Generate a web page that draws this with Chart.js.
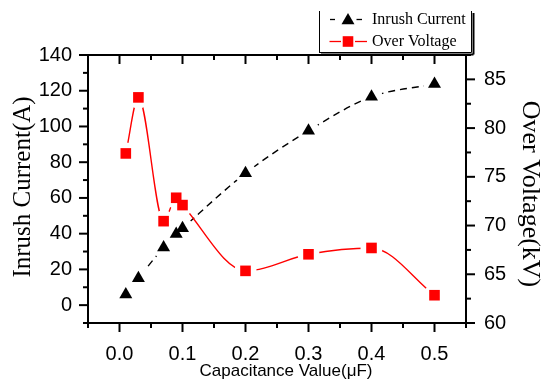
<!DOCTYPE html>
<html><head><meta charset="utf-8">
<script src="https://cdn.jsdelivr.net/npm/chart.js@4.4.1/dist/chart.umd.min.js"></script>
<style>html,body{margin:0;padding:0;background:#fff;}#wrap{width:543px;height:383px;position:relative;}</style>
</head><body><div id="wrap"><canvas id="c" width="543" height="383"></canvas></div>
<script>
// ---- data ----
const capacitance = [0.01, 0.03, 0.07, 0.09, 0.1, 0.2, 0.3, 0.4, 0.5];
const inrushCurrent = [6, 15, 32.3, 39.8, 43, 73.8, 97.6, 116.6, 123.7];
const overVoltage = [77.4, 83.15, 70.45, 72.85, 72.1, 65.35, 67.05, 67.7, 62.85];
const xTicks = [0.0, 0.1, 0.2, 0.3, 0.4, 0.5];
const leftTicks = [0, 20, 40, 60, 80, 100, 120, 140];
const rightTicks = [60, 65, 70, 75, 80, 85];
const seriesNames = ['Inrush Current', 'Over Voltage'];
const xTitle = 'Capacitance Value(\u03bcF)';
const leftTitle = 'Inrush Current(A)';
const rightTitle = 'Over Voltage(kV)';

const SANS = '"Liberation Sans", Arial, sans-serif';
const SERIF = '"Liberation Serif", "Times New Roman", serif';

const pts = (xs, ys) => xs.map((x, i) => ({x: x, y: ys[i]}));
const inrushPts = pts(capacitance, inrushCurrent);
const voltPts = pts(capacitance, overVoltage);

function minorsOf(majors, min, max) {
  const out = [];
  const step = majors[1] - majors[0];
  const all = [majors[0] - step].concat(majors, [majors[majors.length - 1] + step]);
  for (let i = 0; i < all.length - 1; i++) {
    const m = (all[i] + all[i + 1]) / 2;
    if (m >= min - 1e-9 && m <= max + 1e-9) out.push(m);
  }
  return out;
}

function drawTri(ctx, x, y, r) {
  ctx.beginPath();
  ctx.moveTo(x, y - r);
  ctx.lineTo(x + 0.866 * r, y + 0.5 * r);
  ctx.lineTo(x - 0.866 * r, y + 0.5 * r);
  ctx.closePath();
  ctx.fill();
}

const decor = {
  id: 'decor',
  afterDraw(chart) {
    const ctx = chart.ctx;
    const a = chart.chartArea;
    const sx = chart.scales.x, sy = chart.scales.y, sy2 = chart.scales.y2;
    ctx.save();
    ctx.strokeStyle = '#000';
    ctx.fillStyle = '#000';
    ctx.lineWidth = 2;
    ctx.lineCap = 'butt';
    ctx.strokeRect(a.left, a.top, a.right - a.left, a.bottom - a.top);
    const seg = (x1, y1, x2, y2) => { ctx.beginPath(); ctx.moveTo(x1, y1); ctx.lineTo(x2, y2); ctx.stroke(); };
    const MJ = 9, MN = 5;
    xTicks.forEach(v => { const p = sx.getPixelForValue(v); seg(p, a.bottom, p, a.bottom + MJ); seg(p, a.top, p, a.top + MJ); });
    minorsOf(xTicks, sx.min, sx.max).forEach(v => { const p = sx.getPixelForValue(v); seg(p, a.bottom, p, a.bottom + MN); seg(p, a.top, p, a.top + MN); });
    leftTicks.forEach(v => { const p = sy.getPixelForValue(v); seg(a.left, p, a.left - MJ, p); });
    minorsOf(leftTicks, sy.min, sy.max).forEach(v => { const p = sy.getPixelForValue(v); seg(a.left, p, a.left - MN, p); });
    rightTicks.forEach(v => { const p = sy2.getPixelForValue(v); seg(a.right, p, a.right + MJ, p); });
    minorsOf(rightTicks, sy2.min, sy2.max).forEach(v => { const p = sy2.getPixelForValue(v); seg(a.right, p, a.right + MN, p); });

    // axis titles
    ctx.fillStyle = '#000';
    ctx.textAlign = 'center';
    ctx.textBaseline = 'middle';
    ctx.font = '17px ' + SANS;
    ctx.fillText(xTitle, 286, 371);
    ctx.font = '25px ' + SERIF;
    ctx.save(); ctx.translate(23, 187); ctx.rotate(-Math.PI / 2); ctx.fillText(leftTitle, 0, 0); ctx.restore();
    ctx.font = '26px ' + SERIF;
    ctx.save(); ctx.translate(530, 194); ctx.rotate(Math.PI / 2); ctx.fillText(rightTitle, 0, 0); ctx.restore();

    // legend box
    const L = 319, R = 471.5, T = 11, B = 52.5;
    ctx.fillStyle = '#fff';
    ctx.fillRect(L, T, R - L, B - T);
    ctx.lineWidth = 1;
    ctx.strokeStyle = '#000';
    seg(L + 0.5, T, L + 0.5, B);
    seg(L, B, R, B);
    seg(R, T, R, B);
    ctx.lineWidth = 2;
    seg(R + 2, T + 2, R + 2, B + 2);
    seg(L + 2, B + 2, R + 2, B + 2);
    ctx.lineWidth = 1.3;
    ctx.strokeStyle = '#000';
    seg(330, 19.5, 335, 19.5);
    seg(356.5, 19.5, 362, 19.5);
    ctx.fillStyle = '#000';
    drawTri(ctx, 348, 20.5, 7.5);
    ctx.strokeStyle = '#ff0000';
    seg(329.5, 41.5, 341, 41.5);
    seg(355, 41.5, 367, 41.5);
    ctx.fillStyle = '#ff0000';
    ctx.fillRect(348 - 5.3, 41.5 - 5.3, 10.6, 10.6);
    ctx.fillStyle = '#000';
    ctx.textAlign = 'left';
    ctx.textBaseline = 'middle';
    ctx.font = '16px ' + SERIF;
    ctx.fillText(seriesNames[0], 372, 20);
    ctx.fillText(seriesNames[1], 372, 42);
    ctx.restore();
  }
};

const tickFont = {family: SANS, size: 20};
const noGrid = { display: false, drawTicks: false, tickLength: 0 };

new Chart(document.getElementById('c'), {
  type: 'line',
  data: {
    datasets: [
      { label: seriesNames[0], data: inrushPts, yAxisID: 'y', borderColor: '#000', borderWidth: 1.4,
        borderDash: [7, 5], cubicInterpolationMode: 'monotone', pointRadius: 0, fill: false, order: 5 },
      { label: seriesNames[1], data: voltPts, yAxisID: 'y2', borderColor: '#ff0000', borderWidth: 1.4,
        cubicInterpolationMode: 'monotone', pointRadius: 0, fill: false, order: 4 },
      { label: 'gap1', data: inrushPts, yAxisID: 'y', showLine: false, pointStyle: 'circle', pointRadius: 11,
        pointBackgroundColor: '#fff', pointBorderWidth: 0, pointBorderColor: '#fff', order: 3 },
      { label: 'gap2', data: voltPts, yAxisID: 'y2', showLine: false, pointStyle: 'circle', pointRadius: 11,
        pointBackgroundColor: '#fff', pointBorderWidth: 0, pointBorderColor: '#fff', order: 3 },
      { label: 'm1', data: inrushPts, yAxisID: 'y', showLine: false, pointStyle: 'triangle', pointRadius: 7.5,
        pointBackgroundColor: '#000', pointBorderWidth: 0, pointBorderColor: '#000', order: 1 },
      { label: 'm2', data: voltPts, yAxisID: 'y2', showLine: false, pointStyle: 'rect', pointRadius: 7.5,
        pointBackgroundColor: '#ff0000', pointBorderWidth: 0, pointBorderColor: '#ff0000', order: 2 }
    ]
  },
  options: {
    responsive: false,
    animation: false,
    devicePixelRatio: 1,
    layout: { padding: { top: 55, left: 0, right: 0, bottom: 0 } },
    plugins: { legend: { display: false }, tooltip: { enabled: false } },
    events: [],
    scales: {
      x: {
        type: 'linear', position: 'bottom', min: -0.05, max: 0.55,
        grid: noGrid, border: { display: false },
        afterBuildTicks: s => { s.ticks = xTicks.map(v => ({value: v})); },
        afterFit: s => { s.height = 60; },
        ticks: { font: tickFont, color: '#000', padding: 19, maxRotation: 0, autoSkip: false,
          callback: v => Number(v).toFixed(1) }
      },
      y: {
        type: 'linear', position: 'left', min: -10, max: 140,
        grid: noGrid, border: { display: false },
        afterBuildTicks: s => { s.ticks = leftTicks.map(v => ({value: v})); },
        afterFit: s => { s.width = 88; },
        ticks: { font: tickFont, color: '#000', padding: 16, autoSkip: false, callback: v => String(v) }
      },
      y2: {
        type: 'linear', position: 'right', min: 60, max: 87.5,
        grid: noGrid, border: { display: false },
        afterBuildTicks: s => { s.ticks = rightTicks.map(v => ({value: v})); },
        afterFit: s => { s.width = 77; },
        ticks: { font: tickFont, color: '#000', padding: 18, autoSkip: false, callback: v => String(v) }
      }
    }
  },
  plugins: [decor]
});
</script>
</body></html>
